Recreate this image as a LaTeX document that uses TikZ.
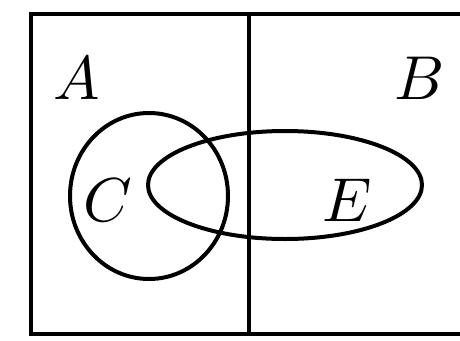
\documentclass[tikz,border=0pt]{standalone}
\usepackage{graphicx}
\begin{document}
\begin{tikzpicture}[x=1pt,y=-1pt,
  edge/.style={line width=4pt,black},
  lbl/.style={inner sep=0pt}]
\useasboundingbox (0,0) rectangle (460,340);
\clip (0,0) rectangle (460,340);
\fill[white] (0,0) rectangle (460,340);
% frame (right side cut off by image edge)
\draw[edge] (470,14) -- (31,14) -- (31,334) -- (470,334);
\draw[edge] (249,14) -- (249,334);
% sets
\draw[edge] (149,196) ellipse [x radius=79, y radius=83];
\draw[edge] (285,185) ellipse [x radius=137, y radius=54];
% labels
\node[lbl] (A) at (77,78) {\scalebox{6.2}{$A$}};
\node[lbl] (B) at (420,78) {\scalebox{6.2}{$B$}};
\node[lbl] (C) at (108,200) {\scalebox{6.2}{$C$}};
\node[lbl] (E) at (347,200) {\scalebox{6.2}{$E$}};
\end{tikzpicture}
\end{document}
